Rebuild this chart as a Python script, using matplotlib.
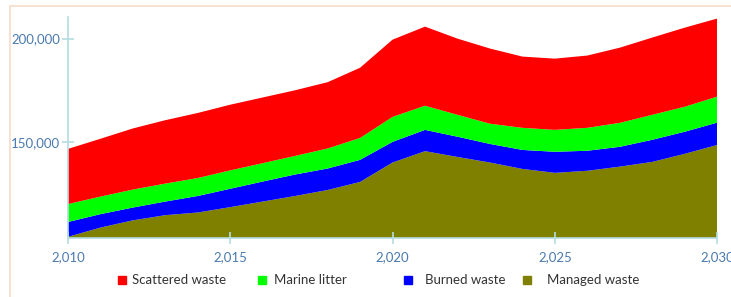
import matplotlib
matplotlib.use("Agg")
import matplotlib.pyplot as plt
from matplotlib.lines import Line2D
from matplotlib.patches import Rectangle
from matplotlib.ticker import FuncFormatter

plt.rcParams['font.family'] = ['Lato', 'DejaVu Sans']

years = list(range(2010, 2031))
managed_waste = [104000, 108500, 112000, 114500, 115800, 118400, 121100, 123800, 126700, 130600,
                 140000, 145500, 142700, 140000, 136900, 135000, 136000, 138000, 140300, 144200, 148500]
burned_waste = [7200, 6500, 6200, 6600, 8000, 8900, 9700, 10400, 10400, 10700,
                10000, 10300, 9800, 9000, 9200, 10200, 9700, 9600, 10700, 10700, 10800]
marine_litter = [8700, 8500, 8700, 8700, 8700, 8900, 8900, 9000, 9700, 10600,
                 12100, 11700, 10600, 9800, 10700, 10600, 11100, 11600, 12100, 12100, 12600]
scattered_waste = [26700, 28000, 29600, 30700, 31500, 31800, 31800, 31800, 32100, 34000,
                   37400, 38300, 36900, 36400, 34500, 34500, 35000, 36400, 37400, 38300, 37800]

labels = ["Managed waste", "Burned waste", "Marine litter", "Scattered waste"]
colors = ["#808000", "#0000ff", "#00ff00", "#ff0000"]
xticks = [2010, 2015, 2020, 2025, 2030]
yticks = [150000, 200000]

fig = plt.figure(figsize=(7.31, 2.97), dpi=100)
ax = fig.add_axes([0.093, 0.199, 0.888, 0.744])

ax.stackplot(years, managed_waste, burned_waste, marine_litter, scattered_waste,
             colors=colors, labels=labels, linewidth=0)

ax.set_xlim(2010, 2030)
ax.set_ylim(103500, 210500)
ax.set_xticks(xticks)
ax.set_yticks(yticks)
fmt = FuncFormatter(lambda v, p: f"{int(v):,}")
ax.xaxis.set_major_formatter(fmt)
ax.yaxis.set_major_formatter(fmt)

spine_col = "#b4dde2"
for s in ["top", "right"]:
    ax.spines[s].set_visible(False)
for s in ["left", "bottom"]:
    ax.spines[s].set_color(spine_col)
    ax.spines[s].set_linewidth(1.2)
ax.tick_params(axis='both', direction='inout', length=9, width=1.2, color=spine_col,
               labelcolor="#4a7ab0", labelsize=9.5)
ax.tick_params(axis='x', pad=5)
ax.tick_params(axis='y', pad=1)

# outer border
fig.add_artist(Rectangle((10 / 731, -0.1), 1.0, (297 - 6) / 297 + 0.1, transform=fig.transFigure,
                         fill=False, edgecolor="#f6dcc8", linewidth=1.2))

# legend entries (manual positions)
order = [3, 2, 1, 0]
marker_x = [122, 262, 408, 527]
text_x = [132, 274, 425, 547]
ly = 1 - 280 / 297
for i, mx, tx in zip(order, marker_x, text_x):
    fig.add_artist(Line2D([mx / 731], [ly], marker='s', markersize=6, color=colors[i],
                          transform=fig.transFigure, linestyle='none'))
    fig.text(tx / 731, ly, labels[i], fontsize=9.5, color="#333333", va='center', ha='left')

fig.savefig("out.png", dpi=100)
